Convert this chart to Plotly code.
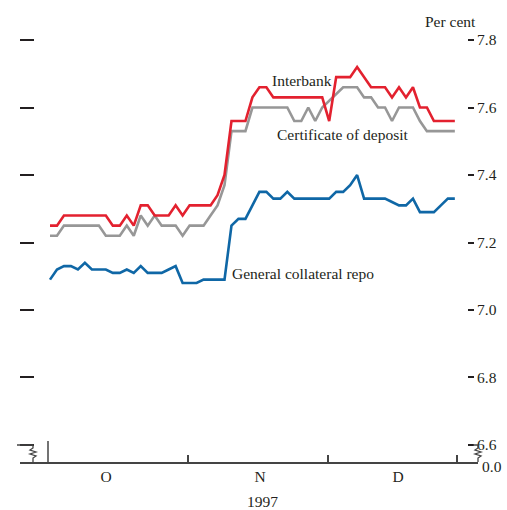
import plotly.graph_objects as go

# ---------------- data ----------------
obs = list(range(59))  # observation index (approx. business days, Oct-Dec 1997)

interbank = [7.25, 7.25, 7.28, 7.28, 7.28, 7.28, 7.28, 7.28, 7.28, 7.25,
             7.25, 7.28, 7.25, 7.31, 7.31, 7.28, 7.28, 7.28, 7.31, 7.28,
             7.31, 7.31, 7.31, 7.31, 7.34, 7.40, 7.56, 7.56, 7.56, 7.63,
             7.66, 7.66, 7.63, 7.63, 7.63, 7.63, 7.63, 7.63, 7.63, 7.63,
             7.56, 7.69, 7.69, 7.69, 7.72, 7.69, 7.66, 7.66, 7.66, 7.63,
             7.66, 7.63, 7.66, 7.60, 7.60, 7.56, 7.56, 7.56, 7.56]

cert_deposit = [7.22, 7.22, 7.25, 7.25, 7.25, 7.25, 7.25, 7.25, 7.22, 7.22,
                7.22, 7.25, 7.22, 7.28, 7.25, 7.28, 7.25, 7.25, 7.25, 7.22,
                7.25, 7.25, 7.25, 7.28, 7.31, 7.37, 7.53, 7.53, 7.53, 7.60,
                7.60, 7.60, 7.60, 7.60, 7.60, 7.56, 7.56, 7.60, 7.56, 7.60,
                7.62, 7.64, 7.66, 7.66, 7.66, 7.63, 7.63, 7.60, 7.60, 7.56,
                7.60, 7.60, 7.60, 7.56, 7.53, 7.53, 7.53, 7.53, 7.53]

gc_repo = [7.09, 7.12, 7.13, 7.13, 7.12, 7.14, 7.12, 7.12, 7.12, 7.11,
           7.11, 7.12, 7.11, 7.13, 7.11, 7.11, 7.11, 7.12, 7.13, 7.08,
           7.08, 7.08, 7.09, 7.09, 7.09, 7.09, 7.25, 7.27, 7.27, 7.31,
           7.35, 7.35, 7.33, 7.33, 7.35, 7.33, 7.33, 7.33, 7.33, 7.33,
           7.33, 7.35, 7.35, 7.37, 7.40, 7.33, 7.33, 7.33, 7.33, 7.32,
           7.31, 7.31, 7.33, 7.29, 7.29, 7.29, 7.31, 7.33, 7.33]

month_labels = ["O", "N", "D"]
y_ticks = [6.6, 6.8, 7.0, 7.2, 7.4, 7.6, 7.8]
y_tick_text = ["6.6", "6.8", "7.0", "7.2", "7.4", "7.6", "7.8"]
series_names = ["Interbank", "Certificate of deposit", "General collateral repo"]

# ---------------- layout constants ----------------
W, H = 507, 510
ML, MR, MT, MB = 20, 29, 20, 48
PW, PH = W - ML - MR, H - MT - MB
X_RANGE = [-4.298, 61.318]
Y_RANGE = [6.5496, 7.8593]
month_pos = [8.02, 30.09, 49.86]
month_bounds = [19.77, 39.83, 58.31]

FONT = "Liberation Serif, Times New Roman, serif"
FS = 15.5
TXT = "#231f20"
RED, GREY, BLUE = "#e3212f", "#979797", "#0f67a6"


def px(xp):
    return (xp - ML) / PW


def py(yp):
    return (H - MB - yp) / PH


fig = go.Figure()
for vals, col, name in [(cert_deposit, GREY, series_names[1]),
                        (interbank, RED, series_names[0]),
                        (gc_repo, BLUE, series_names[2])]:
    fig.add_trace(go.Scatter(x=obs, y=vals, mode="lines", name=name,
                             line=dict(color=col, width=2.6),
                             showlegend=False))
# invisible trace to activate the right-hand axis
fig.add_trace(go.Scatter(x=[obs[0]], y=[gc_repo[0]], yaxis="y2", mode="markers",
                         marker=dict(opacity=0), showlegend=False, hoverinfo="skip"))

# line labels
fig.add_annotation(x=36.1, y=7.681, text=series_names[0], showarrow=False,
                   font=dict(family=FONT, size=FS, color=TXT))
fig.add_annotation(x=41.98, y=7.519, text=series_names[1], showarrow=False,
                   font=dict(family=FONT, size=FS, color=TXT))
fig.add_annotation(x=36.25, y=7.107, text=series_names[2], showarrow=False,
                   font=dict(family=FONT, size=FS, color=TXT))

# header / extra labels
fig.add_annotation(xref="paper", yref="paper", x=px(478), y=py(22), text="Per cent",
                   showarrow=False, xanchor="right", yanchor="middle",
                   font=dict(family=FONT, size=FS, color=TXT))
fig.add_annotation(xref="paper", yref="paper", x=px(480), y=py(466), text="0.0",
                   showarrow=False, xanchor="left", yanchor="middle",
                   font=dict(family=FONT, size=FS, color=TXT))
fig.add_annotation(xref="paper", yref="paper", x=px(262), y=py(502), text="1997",
                   showarrow=False, xanchor="center", yanchor="middle",
                   font=dict(family=FONT, size=FS, color=TXT))


def path(points):
    s = "M " + " L ".join(f"{px(a):.5f},{py(b):.5f}" for a, b in points)
    return s


AX = "#444444"
# axis-break zigzags
fig.add_shape(type="path", xref="paper", yref="paper",
              path=path([(17, 445), (33, 445), (33, 448), (30, 450), (36, 452),
                         (30, 454), (36, 456), (33, 458), (33, 462)]),
              line=dict(color=AX, width=1.3))
fig.add_shape(type="path", xref="paper", yref="paper",
              path=path([(473, 445), (478, 445), (478, 448), (475, 450), (481, 452),
                         (475, 454), (481, 456), (478, 458), (478, 462)]),
              line=dict(color=AX, width=1.3))
# tall start tick
fig.add_shape(type="line", xref="paper", yref="paper", x0=px(48), x1=px(48),
              y0=0, y1=py(441), line=dict(color=AX, width=1.5))

fig.update_layout(
    width=W, height=H,
    margin=dict(l=ML, r=MR, t=MT, b=MB, autoexpand=False),
    paper_bgcolor="white", plot_bgcolor="white",
    xaxis=dict(range=X_RANGE, showgrid=False, zeroline=False,
               showline=True, linecolor=AX, linewidth=1.5,
               tickvals=month_pos, ticktext=month_labels, ticks="",
               tickfont=dict(family=FONT, size=FS, color=TXT),
               minor=dict(tickvals=month_bounds, ticks="inside", ticklen=7,
                          tickcolor=AX, tickwidth=1.5, showgrid=False)),
    yaxis=dict(range=Y_RANGE, showgrid=False, zeroline=False, showline=False,
               tickvals=y_ticks, ticks="inside", ticklen=14, tickwidth=1.5,
               tickcolor=TXT, showticklabels=False),
    yaxis2=dict(range=Y_RANGE, overlaying="y", side="right", anchor="free",
                position=px(467), showgrid=False, zeroline=False, showline=False,
                tickvals=y_ticks, ticktext=y_tick_text, ticks="outside",
                ticklen=6, tickwidth=1.5, tickcolor=TXT,
                tickfont=dict(family=FONT, size=FS, color=TXT)),
)

fig.write_html("out.html",
               config={"displayModeBar": False},
               post_script="document.body.style.margin='0';"
                           "document.body.style.padding='0';"
                           "document.body.style.overflow='hidden';")
